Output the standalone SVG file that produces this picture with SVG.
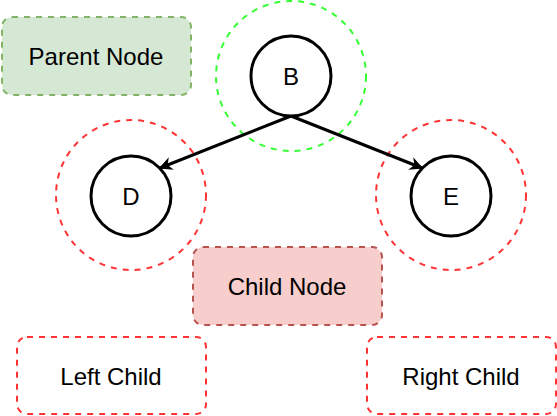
<svg xmlns="http://www.w3.org/2000/svg" width="557" height="416" viewBox="0 0 557 416">
<defs>
<style>
text{font-family:"Liberation Sans",Arial,sans-serif;font-size:24px;fill:#000;text-anchor:middle}
.box{stroke-width:2;stroke-dasharray:6 6}
.halo{fill:none;stroke-width:2;stroke-dasharray:6 6}
.node{fill:#fff;stroke:#000;stroke-width:3}
.edge{fill:none;stroke:#000;stroke-width:3}
</style>
<marker id="arr" viewBox="0 0 10 10" refX="9" refY="5" markerWidth="4.5" markerHeight="4.5" orient="auto" markerUnits="strokeWidth">
<path d="M0,0 L10,5 L0,10 L3,5 Z" fill="#000"/>
</marker>
</defs>
<g id="parent-node"><rect class="box" x="2" y="17" width="189" height="78" rx="10" fill="#d5e8d4" stroke="#82b366"/><text x="96" y="65">Parent Node</text></g>
<g id="halo-b"><circle class="halo" cx="291" cy="76" r="75" stroke="#33ff33"/></g>
<g id="halo-d"><circle class="halo" cx="131" cy="195" r="75" stroke="#ff3333"/></g>
<g id="halo-e"><circle class="halo" cx="451" cy="195" r="75" stroke="#ff3333"/></g>
<g id="child-node"><rect class="box" x="193" y="247" width="189" height="78" rx="10" fill="#f8cecc" stroke="#b85450"/><text x="287" y="295">Child Node</text></g>
<g id="left-child"><rect class="box" x="17" y="337" width="189" height="77" rx="10" fill="#fff" stroke="#ff3333"/><text x="111" y="385">Left Child</text></g>
<g id="right-child"><rect class="box" x="367" y="337" width="189" height="77" rx="10" fill="#fff" stroke="#ff3333"/><text x="461" y="385">Right Child</text></g>
<g id="connectors">
<path class="edge" d="M291,116 L160,168" marker-end="url(#arr)"/>
<path class="edge" d="M291,116 L422,168" marker-end="url(#arr)"/>
</g>
<g id="node-b"><circle class="node" cx="291" cy="76" r="40"/><text x="291" y="85">B</text></g>
<g id="node-d"><circle class="node" cx="131" cy="196" r="40"/><text x="131" y="205">D</text></g>
<g id="node-e"><circle class="node" cx="451" cy="196" r="40"/><text x="451" y="205">E</text></g>
</svg>
